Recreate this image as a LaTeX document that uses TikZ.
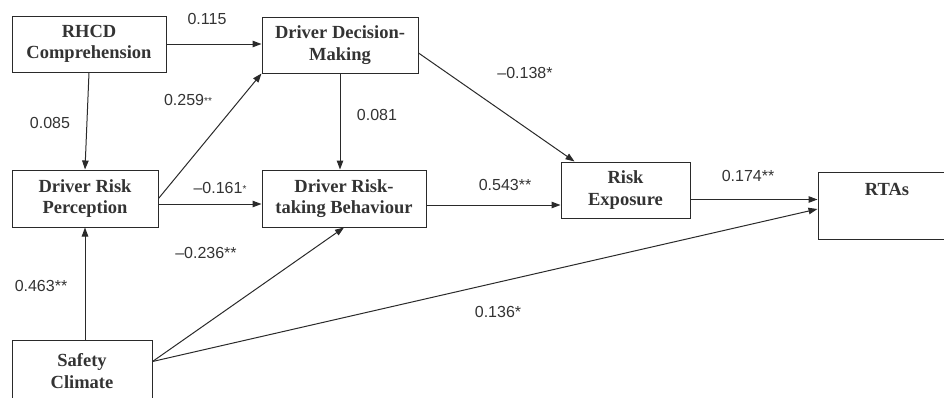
\documentclass[tikz,border=0pt]{standalone}
\usepackage{fontspec}
\setmainfont{Liberation Serif}
\newfontfamily\arialfont{Liberation Sans}
\usetikzlibrary{arrows.meta,calc}
\definecolor{ink}{HTML}{2A2A2A}
\definecolor{txt}{HTML}{333333}
\tikzset{
  box/.style={draw=ink, line width=1pt, inner sep=0pt, align=center,
    text=txt, font=\bfseries\fontsize{18.5}{21.5}\selectfont},
  coef/.style={inner sep=0pt, text=txt, font=\arialfont\fontsize{16}{19}\selectfont},
  arr/.style={draw=ink, line width=1pt, -{Triangle[length=9pt,width=6.5pt]}},
}
\newcommand{\smst}[1]{{\fontsize{10}{12}\selectfont\raisebox{1pt}{#1}}}
\begin{document}
\begin{tikzpicture}[x=1pt,y=-1pt]
\useasboundingbox (0,0) rectangle (944,397);
\clip (0,0) rectangle (944,397);
% boxes
\node[box, minimum width=154pt, minimum height=56pt] (rhcd) at (89,44) {RHCD\\Comprehension};
\node[box, minimum width=156pt, minimum height=56pt] (ddm) at (340,45) {Driver Decision-\\Making};
\node[box, minimum width=146pt, minimum height=57pt] (drp) at (85,198.5) {Driver Risk\\Perception};
\node[box, minimum width=164pt, minimum height=57pt] (drtb) at (344,198.5) {Driver Risk-\\taking Behaviour};
\node[box, minimum width=129pt, minimum height=56pt] (re) at (625.5,190) {Risk\\Exposure};
\node[box, minimum width=138pt, minimum height=67pt, text height=12pt, text depth=33pt] (rta) at (887,205.5) {RTAs};
\node[box, minimum width=140pt, minimum height=62pt] (sc) at (82,371) {Safety\\Climate};
% connector end points
\coordinate (drpout) at ($(drp.east)+(0,5.5)$);
\coordinate (drtbout) at ($(drtb.east)+(0,6.5)$);
\coordinate (reout) at ($(re.east)+(0,9.5)$);
\coordinate (ddmout) at ($(ddm.east)+(0,8)$);
\coordinate (rein) at ($(re.north west)+(14,0)$);
\coordinate (rtain) at ($(rta.west)+(0,3.5)$);
\coordinate (scout) at ($(sc.north east)+(0,22)$);
% connectors
\draw[arr] (rhcd.east) -- (rhcd.east -| ddm.west);
\draw[arr] (rhcd.south) -- (drp.north);
\draw[arr] (drp.east) -- (ddm.south west);
\draw[arr] (drpout) -- (drpout -| drtb.west);
\draw[arr] (ddm.south) -- (ddm.south |- drtb.north);
\draw[arr] (ddmout) -- (rein);
\draw[arr] (drtbout) -- (drtbout -| re.west);
\draw[arr] (reout) -- (reout -| rta.west);
\draw[arr] (sc.north -| drp.south) -- (drp.south);
\draw[arr] (scout) -- (drtb.south);
\draw[arr] (scout) -- (rtain);
% coefficients
\node[coef] (l115) at (207,19) {0.115};
\node[coef] (l085) at (50,123) {0.085};
\node[coef] (l259) at (188,100) {0.259\smst{**}};
\node[coef] (l081) at (377,115) {0.081};
\node[coef] (l161) at (220,188) {–0.161\smst{*}};
\node[coef] (l138) at (525,73) {–0.138*};
\node[coef] (l543) at (505,185) {0.543**};
\node[coef] (l174) at (748,176) {0.174**};
\node[coef] (l236) at (206,253) {–0.236**};
\node[coef] (l463) at (41,286) {0.463**};
\node[coef] (l136) at (498,312) {0.136*};
\end{tikzpicture}
\end{document}
